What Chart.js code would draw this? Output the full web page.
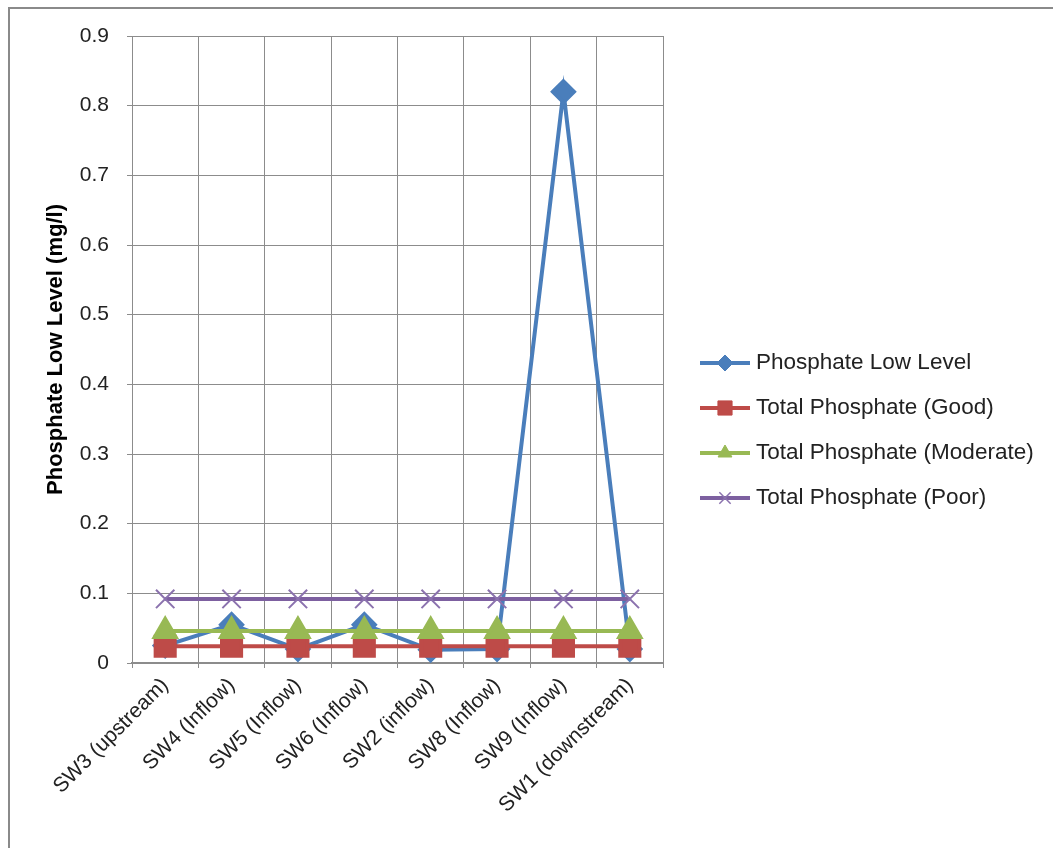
<!DOCTYPE html>
<html>
<head>
<meta charset="utf-8">
<script src="https://cdn.jsdelivr.net/npm/chart.js@4.4.1/dist/chart.umd.min.js"></script>
<style>
  html, body { margin: 0; padding: 0; background: #fff; overflow: hidden; }
  #wrap { position: relative; width: 1053px; height: 848px; }
  #frame { position: absolute; left: 8px; top: 7px; width: 1200px; height: 1000px;
           border-top: 2px solid #8a8a8a; border-left: 2px solid #8a8a8a; pointer-events: none; }
</style>
</head>
<body>
<div id="wrap">
  <canvas id="myChart" width="1053" height="848"></canvas>
  <div id="frame"></div>
</div>
<script>
// setup
const sites = ['SW3 (upstream)', 'SW4 (Inflow)', 'SW5 (Inflow)', 'SW6 (Inflow)',
               'SW2 (inflow)', 'SW8 (Inflow)', 'SW9 (Inflow)', 'SW1 (downstream)'];
const lowLevel = [0.025, 0.055, 0.02, 0.055, 0.019, 0.02, 0.82, 0.02];
const goodLevel = [0.024, 0.024, 0.024, 0.024, 0.024, 0.024, 0.024, 0.024];
const moderateLevel = [0.046, 0.046, 0.046, 0.046, 0.046, 0.046, 0.046, 0.046];
const poorLevel = [0.092, 0.092, 0.092, 0.092, 0.092, 0.092, 0.092, 0.092];
const yTicks = [0, 0.1, 0.2, 0.3, 0.4, 0.5, 0.6, 0.7, 0.8, 0.9];

const fontFam = "'Liberation Sans', Arial, sans-serif";

const data = {
  labels: sites,
  datasets: [
    { label: 'Phosphate Low Level', data: lowLevel, borderColor: '#4A7EBB', backgroundColor: '#4A7EBB',
      pointStyle: 'rectRot', pointRadius: 10.5, borderWidth: 4, order: 4 },
    { label: 'Total Phosphate (Good)', data: goodLevel, borderColor: '#BE4B48', backgroundColor: '#BE4B48',
      pointStyle: 'rect', pointRadius: 13.5, borderWidth: 4, order: 3 },
    { label: 'Total Phosphate (Moderate)', data: moderateLevel, borderColor: '#98B954', backgroundColor: '#98B954',
      pointStyle: 'triangle', pointRadius: 12, borderWidth: 4, order: 2 },
    { label: 'Total Phosphate (Poor)', data: poorLevel, borderColor: '#7D60A0', backgroundColor: '#7D60A0',
      pointStyle: 'crossRot', pointRadius: 13, borderWidth: 4, order: 1,
      pointBorderColor: '#8B72AE', pointBorderWidth: 2 }
  ]
};

// legend drawn at the right like the excel one
const sideLegend = {
  id: 'sideLegend',
  afterDraw(chart) {
    const ctx = chart.ctx;
    const rows = [363, 408, 453, 498];
    ctx.save();
    chart.data.datasets.forEach(function(ds, i) {
      const y = rows[i];
      ctx.strokeStyle = ds.borderColor;
      ctx.lineWidth = 4;
      ctx.beginPath();
      ctx.moveTo(700, y);
      ctx.lineTo(750, y);
      ctx.stroke();
      ctx.fillStyle = ds.backgroundColor;
      ctx.strokeStyle = ds.pointBorderColor || ds.borderColor;
      ctx.lineWidth = ds.pointStyle === 'crossRot' ? 1.5 : 1;
      Chart.helpers.drawPoint(ctx, { pointStyle: ds.pointStyle, radius: ds.pointStyle === 'rect' ? 10 : 8,
        borderWidth: ctx.lineWidth, rotation: 0 }, 725, y);
      ctx.fillStyle = '#222';
      ctx.font = '22.5px ' + fontFam;
      ctx.textAlign = 'left';
      ctx.textBaseline = 'middle';
      ctx.fillText(ds.label, 756, y);
    });
    ctx.restore();
  }
};

const config = {
  type: 'line',
  data: data,
  options: {
    responsive: false,
    animation: false,
    layout: { padding: { left: 0, top: 36, right: 390, bottom: 0 } },
    elements: { line: { tension: 0 }, point: { borderWidth: 1 } },
    plugins: {
      legend: { display: false },
      tooltip: { enabled: false }
    },
    scales: {
      x: {
        offset: true,
        grid: { offset: true, color: '#8c8c8c', lineWidth: 1, tickLength: 5 },
        border: { color: '#8c8c8c', width: 2 },
        ticks: {
          color: '#222', font: { family: fontFam, size: 21 },
          maxRotation: 45, minRotation: 45, padding: 5, autoSkip: false
        },
        afterFit(scale) { scale.height = 185; }
      },
      y: {
        min: 0, max: 0.9,
        afterBuildTicks(scale) { scale.ticks = yTicks.map(v => ({ value: v })); },
        grid: { color: '#8c8c8c', lineWidth: 1, tickLength: 5 },
        border: { color: '#8c8c8c', width: 1 },
        ticks: {
          color: '#222', font: { family: fontFam, size: 21 }, padding: 18,
          callback: v => (v === 0 ? '0' : v.toFixed(1))
        },
        title: {
          display: true, text: 'Phosphate Low Level (mg/l)', color: '#000',
          font: { family: fontFam, size: 22, weight: 'bold' }, padding: { top: 43, bottom: 0 }
        },
        afterFit(scale) { scale.width = 132; }
      }
    }
  },
  plugins: [sideLegend]
};

const myChart = new Chart(document.getElementById('myChart'), config);
</script>
</body>
</html>
